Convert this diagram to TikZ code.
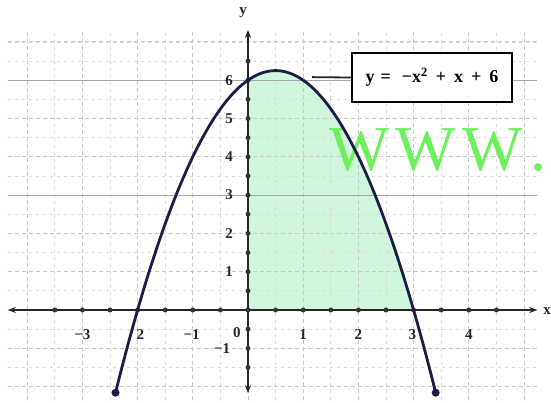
\documentclass[tikz,border=0pt]{standalone}
\usepackage{fontspec}
\setmainfont{Liberation Serif}
\usetikzlibrary{arrows.meta}
\definecolor{curvecol}{RGB}{28,28,72}
\definecolor{shadecol}{RGB}{208,247,222}
\definecolor{wmcol}{RGB}{108,240,92}
\definecolor{gridcol}{RGB}{218,218,218}
\definecolor{gridcoldark}{RGB}{200,200,200}
\definecolor{gridcolsolid}{RGB}{165,165,165}
\begin{document}
\begin{tikzpicture}[x=55.2pt,y=38.3pt,
  >={Stealth[length=8pt,width=6pt]},
  lab/.style={font=\fontsize{15}{15}\selectfont\bfseries, inner sep=0pt, text=black!85},
  halfgrid/.style={gridcol, line width=0.7pt, dash pattern=on 3pt off 4pt},
  intgrid/.style={gridcoldark, line width=0.8pt, dash pattern=on 4pt off 3pt},
  solidgrid/.style={gridcolsolid, line width=1pt},
  axisline/.style={line width=1.4pt, black!85},
  tickdot/.style={circle, fill=black!80, inner sep=0pt, minimum size=5pt},
  enddot/.style={circle, fill=curvecol, inner sep=0pt, minimum size=8pt},
  curveline/.style={curvecol, line width=2.8pt},
  eqbox/.style={draw=black, line width=1.8pt, minimum width=160pt, minimum height=49pt, inner sep=0pt, fill=white,
    font=\fontsize{18}{18}\selectfont\bfseries}
]
\useasboundingbox (-248pt,-93pt) rectangle (303pt,310pt);
% shaded region
\fill[shadecol] (0,0) -- plot[domain=0:3, samples=60, smooth] (\x,{-\x*\x+\x+6}) -- cycle;
% grid
\foreach \x in {-4,-3.5,...,5} \draw[halfgrid] (\x,-2.35) -- (\x,7.31);
\foreach \y in {-2,-1.5,...,7} \draw[halfgrid] (-4.35,\y) -- (5.24,\y);
\foreach \x in {-4,...,5} \draw[intgrid] (\x,-2.35) -- (\x,7.31);
\foreach \y in {-2,...,7} \draw[intgrid] (-4.35,\y) -- (5.24,\y);
\foreach \y in {3,6} \draw[solidgrid] (-4.35,\y) -- (5.24,\y);
% watermark
\node[anchor=base west, inner sep=0pt, text=wmcol, font=\fontsize{64}{64}\selectfont] (wm) at (1.47,3.64) {W\kern6pt W\kern6pt W\kern8pt.};
% axes
\coordinate (xl) at (-4.35,0);
\coordinate (xr) at (5.24,0);
\coordinate (yb) at (0,-2.17);
\coordinate (yt) at (0,7.31);
\draw[axisline,<->] (xl) -- (xr);
\draw[axisline,<->] (yb) -- (yt);
\foreach \x in {-3.5,-3,...,4.5} \node[tickdot] at (\x,0) {};
\foreach \y in {-1.5,-1,...,6.5} \node[tickdot] at (0,\y) {};
\node[lab] (xlab) at (5.42,-0.03) {x};
\node[lab] (ylab) at (-0.09,7.75) {y};
% x labels
\node[lab] (xm3) at (-3,-0.65) {−3};
\node[lab] (xm2) at (-1.95,-0.65) {2};
\node[lab] (xm1) at (-1.02,-0.65) {−1};
\node[lab] (x0) at (-0.2,-0.58) {0};
\node[lab] (x1) at (1,-0.65) {1};
\node[lab] (x2) at (2,-0.65) {2};
\node[lab] (x3) at (2.98,-0.65) {3};
\node[lab] (x4) at (4,-0.65) {4};
% y labels
\node[lab] (ym1) at (-0.47,-1.0) {−1};
\foreach \y in {1,...,6} \node[lab] (y\y) at (-0.34,\y) {\y};
% curve
\draw[curveline] plot[domain=-2.4:3.4, samples=120, smooth] (\x,{-\x*\x+\x+6});
\node[enddot] (e1) at (-2.4,-2.16) {};
\node[enddot] (e2) at (3.4,-2.16) {};
% equation box
\node[eqbox] (eq) at (3.333,6.07) {y\kern6pt=\kern11pt−x\textsuperscript{2}\kern8pt+\kern8pt x\kern8pt+\kern8pt 6};
\coordinate (lead) at (1.16,6.08);
\draw[line width=1.8pt, black!85] (lead) -- (eq.west);
\end{tikzpicture}
\end{document}
